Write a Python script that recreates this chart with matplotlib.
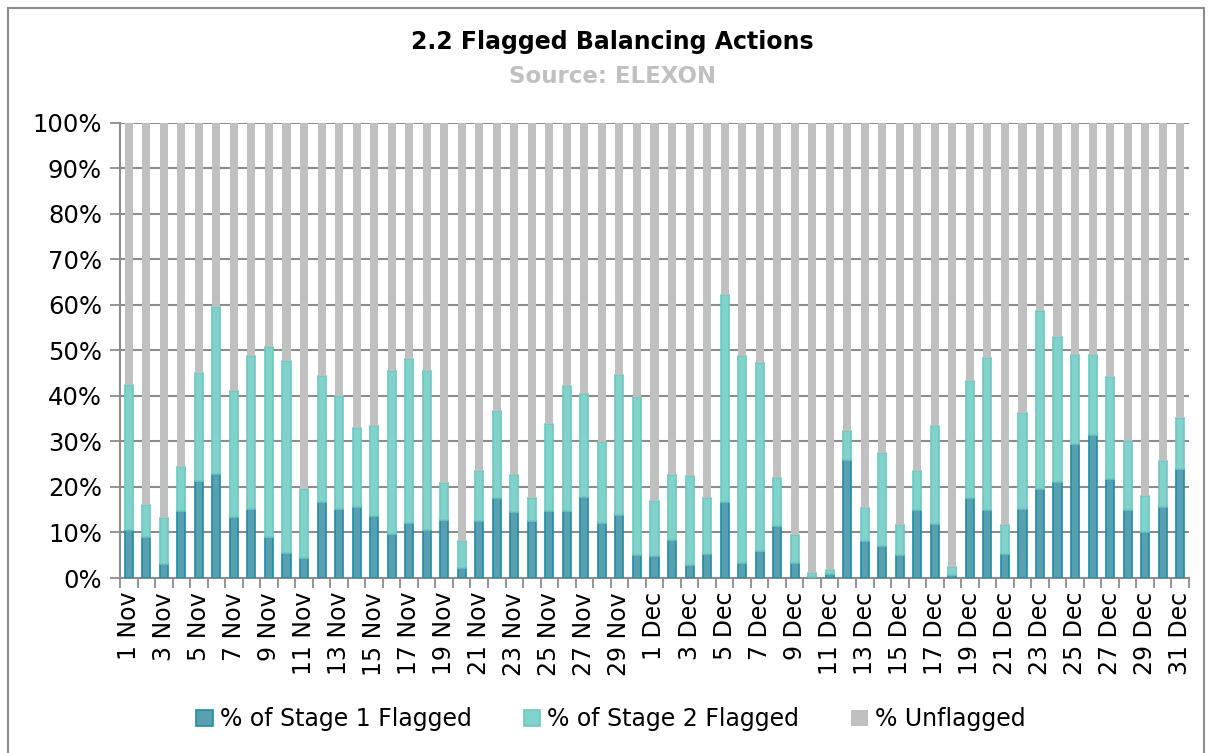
import matplotlib
matplotlib.use("Agg")
import matplotlib.pyplot as plt
from matplotlib.patches import Rectangle

# values in %, 1 Nov .. 31 Dec
days = ["%d Nov" % d for d in range(1, 31)] + ["%d Dec" % d for d in range(1, 32)]

stage1 = [10.5, 9.0, 3.0, 14.8, 21.3, 22.9, 13.3, 15.2, 9.0, 5.4,
          4.5, 16.7, 15.1, 15.6, 13.6, 9.6, 12.0, 10.5, 12.7, 2.2,
          12.6, 17.6, 14.5, 12.6, 14.7, 14.7, 17.9, 12.0, 13.8, 5.0,
          4.9, 8.4, 2.9, 5.3, 16.8, 3.2, 5.9, 11.5, 3.4, 0.2,
          0.9, 25.9, 8.1, 7.1, 5.1, 15.0, 11.9, 0.7, 17.5, 15.0,
          5.3, 15.2, 19.5, 21.1, 29.4, 31.4, 21.7, 15.0, 10.0, 15.6,
          23.9]

flagged_total = [42.5, 16.0, 13.2, 24.3, 45.0, 59.6, 41.1, 48.7, 50.8, 47.7,
                 19.6, 44.3, 40.0, 33.0, 33.5, 45.6, 48.1, 45.6, 20.9, 8.1,
                 23.5, 36.7, 22.6, 17.5, 33.9, 42.3, 40.4, 29.8, 44.7, 39.7,
                 16.9, 22.6, 22.5, 17.5, 62.1, 48.7, 47.3, 22.0, 9.4, 1.2,
                 1.7, 32.4, 15.4, 27.5, 11.7, 23.6, 33.4, 2.4, 43.4, 48.3,
                 11.7, 36.3, 58.6, 52.9, 48.9, 48.9, 44.2, 30.0, 18.1, 25.8,
                 35.1]

stage2 = [t - s for t, s in zip(flagged_total, stage1)]
unflagged = [100 - t for t in flagged_total]

plt.rcParams['font.family'] = ['DejaVu Sans']

fig = plt.figure(figsize=(12.1, 7.53), dpi=100)
ax = fig.add_axes([0.0992, 0.2324, 0.8834, 0.6043])

x = list(range(len(days)))
w = 0.46
ax.bar(x, stage1, w, color="#5a9fb0", edgecolor="#1b8fa8", linewidth=1.2,
       label="% of Stage 1 Flagged", zorder=3)
ax.bar(x, stage2, w, bottom=stage1, color="#80d2cb", edgecolor="#6cc9c1", linewidth=1.2,
       label="% of Stage 2 Flagged", zorder=3)
ax.bar(x, unflagged, w, bottom=flagged_total, color="#c0c0c0", linewidth=0,
       label="% Unflagged", zorder=3)

ax.set_xlim(-0.5, len(days) - 0.5)
ax.set_ylim(0, 100)
ax.set_yticks(range(0, 101, 10))
ax.set_yticklabels(["%d%%" % v for v in range(0, 101, 10)], fontsize=17.5)
ax.yaxis.grid(True, color="#8c8c8c", linewidth=1.5, zorder=0)
ax.set_axisbelow(True)

ax.set_xticks(x[::2])
ax.set_xticklabels(days[::2], rotation=90, fontsize=17)
ax.set_xticks([i - 0.5 for i in range(len(days) + 1)], minor=True)
ax.tick_params(axis="x", which="major", length=0, pad=10)
ax.tick_params(axis="x", which="minor", length=7, color="#8c8c8c", width=1.3)
ax.tick_params(axis="y", length=7, color="#8c8c8c", width=1.3, pad=6)

for side in ["top", "right"]:
    ax.spines[side].set_visible(False)
ax.spines["left"].set_color("#8c8c8c")
ax.spines["left"].set_linewidth(1.5)
ax.spines["bottom"].set_color("#8c8c8c")
ax.spines["bottom"].set_linewidth(1.5)

fig.text(0.506, 0.944, "2.2 Flagged Balancing Actions", ha="center", va="center",
         fontsize=17, fontweight="bold")
fig.text(0.506, 0.899, "Source: ELEXON", ha="center", va="center",
         fontsize=16.5, fontweight="bold", color="#c0c0c0")

fig.legend(loc="center", bbox_to_anchor=(0.505, 0.045), ncol=3, frameon=False,
           fontsize=17, handlelength=0.7, handleheight=0.7, handletextpad=0.3,
           columnspacing=2.2)

fig.patches.append(Rectangle((0.007, -0.02), 0.988, 1.01, transform=fig.transFigure,
                             fill=False, edgecolor="#8c8c8c", linewidth=1.5))

fig.savefig("out.png", dpi=100)
